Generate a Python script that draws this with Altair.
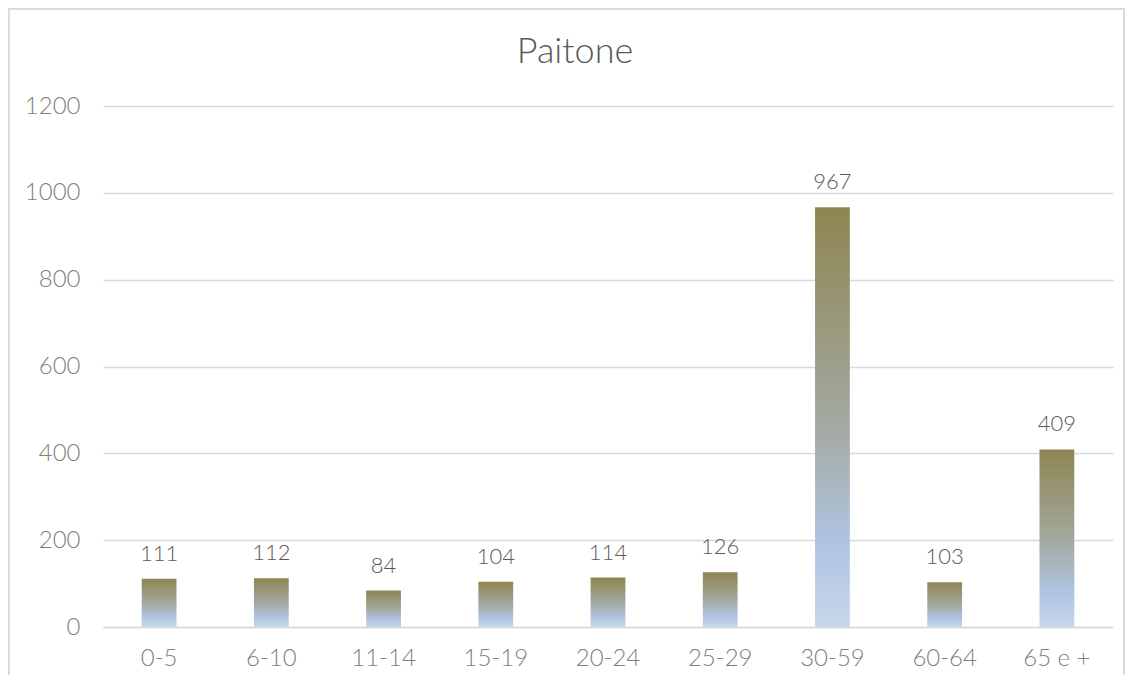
import altair as alt
import pandas as pd

categories = ["0-5", "6-10", "11-14", "15-19", "20-24", "25-29", "30-59", "60-64", "65 e +"]
values = [111, 112, 84, 104, 114, 126, 967, 103, 409]
y_ticks = [0, 200, 400, 600, 800, 1000, 1200]
title_text = "Paitone"

df = pd.DataFrame({"cat": categories, "val": values})

FONT = "Lato"

gradient = alt.LinearGradient(
    gradient="linear",
    x1=0, y1=0, x2=0, y2=1,
    stops=[
        alt.GradientStop(color="#8e8551", offset=0),
        alt.GradientStop(color="#a3a89e", offset=0.5),
        alt.GradientStop(color="#afc4e1", offset=0.8),
        alt.GradientStop(color="#c8d7eb", offset=1),
    ],
)

x_enc = alt.X("cat:N", sort=categories, title=None,
              scale=alt.Scale(paddingInner=0.69, paddingOuter=0.345),
              axis=alt.Axis(labelAngle=0, labelFont=FONT, labelFontWeight=300,
                            labelFontSize=24, labelColor="#808080", labelPadding=19,
                            ticks=False, domain=True, domainColor="#d9d9d9", domainWidth=1.3,
                            grid=False))
y_enc = alt.Y("val:Q", title=None,
              scale=alt.Scale(domain=[0, 1200], nice=False),
              axis=alt.Axis(values=y_ticks, format="d", labelFont=FONT, labelFontWeight=300,
                            labelFontSize=24, labelColor="#808080", labelPadding=23,
                            ticks=False, domain=False, gridColor="#d9d9d9", gridWidth=1.3))

bars = alt.Chart(df).mark_bar(color=gradient).encode(x=x_enc, y=y_enc)

labels = alt.Chart(df).mark_text(
    font=FONT, fontWeight=300, fontSize=22, color="#595959",
    baseline="alphabetic", dy=-18
).encode(x=alt.X("cat:N", sort=categories), y="val:Q", text="val:Q")

border = alt.Chart(df).mark_rect(
    fill=None, fillOpacity=0, stroke="#d9d9d9", strokeWidth=1.5, clip=False
).encode(x=alt.value(-94.5), x2=alt.value(1021), y=alt.value(-97.5), y2=alt.value(600))

title = alt.Chart(alt.Data(values=[{"t": title_text}])).mark_text(
    font=FONT, fontWeight=300, fontSize=36, color="#595959",
    align="center", baseline="middle"
).encode(x=alt.value(472), y=alt.value(-54), text="t:N")

chart = alt.layer(border, bars, labels, title).properties(
    width=1010, height=521,
    padding={"left": 95, "top": 98, "right": 12, "bottom": 48},
    autosize=alt.AutoSizeParams(type="none"),
).configure_view(stroke=None)

chart.save("out.html", embed_options={"renderer": "svg", "actions": False})
